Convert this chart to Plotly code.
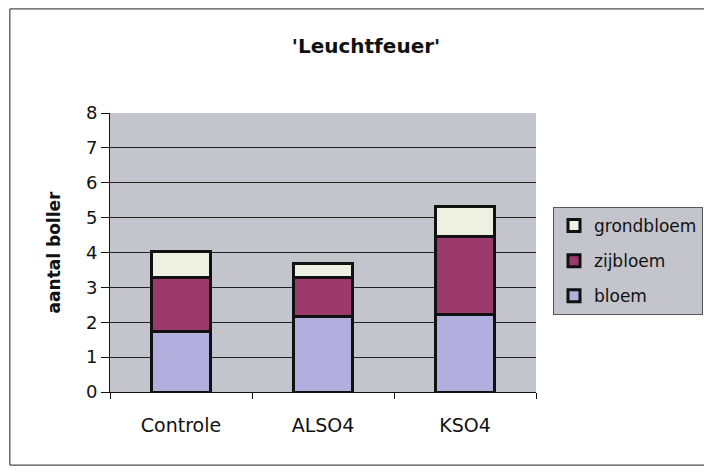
import plotly.graph_objects as go

# stacked bar data
categories = ["Controle", "ALSO4", "KSO4"]
bloem = [1.73, 2.16, 2.23]
zijbloem = [1.54, 1.13, 2.22]
grondbloem = [0.77, 0.40, 0.88]

y_ticks = [0, 1, 2, 3, 4, 5, 6, 7, 8]

# name, values, colour, legend position (top to bottom)
series = [
    ("bloem", bloem, "#b2aede", 3),
    ("zijbloem", zijbloem, "#9c3a6c", 2),
    ("grondbloem", grondbloem, "#eef0e2", 1),
]

FONT = "DejaVu Sans, Arial, sans-serif"

fig = go.Figure()
for name, vals, color, rank in series:
    fig.add_trace(go.Bar(
        x=categories,
        y=vals,
        name=name,
        legendgroup=name,
        legendrank=rank,
        marker=dict(color=color, line=dict(color="#111111", width=3)),
        width=0.42,
    ))

# page has an 8px body margin, so the figure is a bit smaller than the window
fig.update_layout(
    width=704,
    height=464,
    barmode="stack",
    paper_bgcolor="white",
    plot_bgcolor="#c4c4cc",
    font=dict(family=FONT, color="#111111"),
    margin=dict(l=102, r=176, t=105, b=80),
    title=dict(
        text="<b>'Leuchtfeuer'</b>",
        x=358 / 704, xanchor="center",
        y=1 - 38 / 464, yanchor="middle",
        font=dict(size=20),
    ),
    legend=dict(
        xref="container", yref="container",
        x=545 / 704, y=1 - 199 / 464, xanchor="left", yanchor="top",
        traceorder="grouped",
        tracegroupgap=10,
        bgcolor="#c4c4cc",
        bordercolor="#555555", borderwidth=1,
        font=dict(size=17),
        itemwidth=30,
    ),
    showlegend=True,
)

fig.update_yaxes(
    range=[0, 8],
    tickvals=y_ticks,
    ticks="outside", ticklen=8, tickcolor="#111111",
    showgrid=True, gridcolor="#222222", gridwidth=1,
    showline=True, linecolor="#111111", linewidth=1,
    tickfont=dict(size=18),
    title=dict(text="<b>aantal boller</b>", font=dict(size=17), standoff=20),
    zeroline=False,
)

fig.update_xaxes(
    ticks="outside", ticklen=6, tickcolor="#111111",
    tickson="boundaries",
    ticklabelstandoff=16,
    showline=True, linecolor="#111111", linewidth=1,
    tickfont=dict(size=19),
    showgrid=False,
)

# outer chart border
fig.add_shape(
    type="rect", xref="paper", yref="paper",
    x0=-0.235, x1=1.399, y0=-0.262, y1=1.373,
    line=dict(color="#222222", width=1),
    fillcolor="rgba(0,0,0,0)",
)

fig.write_html("out.html")
